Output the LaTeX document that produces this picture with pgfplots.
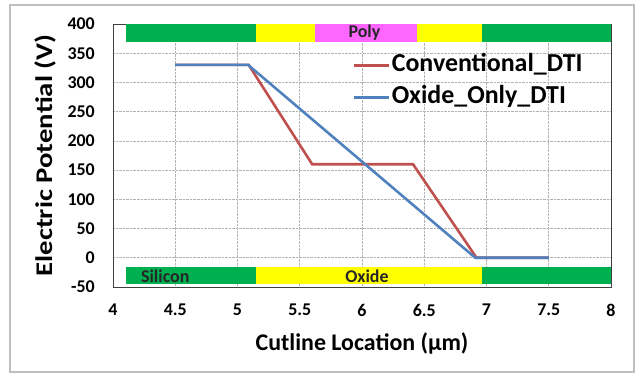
\documentclass[border=0pt]{standalone}
\usepackage{pgfplots}
\pgfplotsset{compat=1.18}
\usepackage{fontspec}
\setmainfont{Carlito}
\definecolor{bandgreen}{RGB}{0,176,80}
\definecolor{bandyellow}{RGB}{255,255,0}
\definecolor{bandpink}{RGB}{255,102,255}
\definecolor{convred}{RGB}{192,80,77}
\definecolor{oxblue}{RGB}{79,129,189}
\begin{document}
\begin{tikzpicture}
\begin{axis}[
  scale only axis, width=498bp, height=263bp,
  xmin=4, xmax=8, ymin=-50, ymax=400,
  xtick={4,4.5,...,8}, ytick={-50,0,...,400},
  xticklabels={4,4.5,5,5.5,6,6.5,7,7.5,8},
  /pgf/number format/assume math mode=true,
  tick style={draw=none},
  grid=major,
  major grid style={densely dotted, gray!60, line width=0.6pt},
  axis line style={black!75, line width=0.8pt},
  ticklabel style={font=\fontsize{18}{18}\selectfont\bfseries},
  yticklabel style={inner sep=0pt, xshift=-18bp, anchor=east},
  xticklabel style={inner sep=0pt, yshift=-17bp, anchor=north},
  xlabel={Cutline Location (\textmu m)},
  ylabel={\scalebox{1.2}[1]{Electric Potential (V)}},
  xlabel style={font=\fontsize{24}{24}\selectfont\bfseries, at={(axis description cs:0.5,-0.213)}, anchor=center},
  ylabel style={font=\fontsize{24}{24}\selectfont\bfseries, at={(axis description cs:-0.1365,0.5)}, anchor=center},
  legend style={at={(axis description cs:0.48,0.897)}, anchor=north west, draw=none, fill=none, inner sep=0pt,
    font=\fontsize{26}{26}\selectfont\bfseries, row sep=4bp,
    nodes={text height=18bp, text depth=6bp, inner sep=2bp}},
  legend cell align=left,
  legend image code/.code={\draw[#1] (0bp,0bp) -- (35bp,0bp);},
]
% top band
\fill[bandgreen] (axis cs:4.104,369) rectangle (axis cs:5.15,400);
\fill[bandyellow] (axis cs:5.15,369) rectangle (axis cs:5.62,400);
\fill[bandpink] (axis cs:5.62,369) rectangle (axis cs:6.44,400);
\fill[bandyellow] (axis cs:6.44,369) rectangle (axis cs:6.96,400);
\fill[bandgreen] (axis cs:6.96,369) rectangle (axis cs:8,400);
% bottom band
\fill[bandgreen] (axis cs:4.104,-45.5) rectangle (axis cs:5.15,-15.3);
\fill[bandyellow] (axis cs:5.15,-45.5) rectangle (axis cs:6.96,-15.3);
\fill[bandgreen] (axis cs:6.96,-45.5) rectangle (axis cs:8,-15.3);
\node[font=\fontsize{18}{18}\selectfont\bfseries, text=black!85] at (axis cs:6.02,385) {Poly};
\node[font=\fontsize{18}{18}\selectfont\bfseries, text=black!85] at (axis cs:4.42,-31) {Silicon};
\node[font=\fontsize{18}{18}\selectfont\bfseries, text=black!85] at (axis cs:6.04,-31) {Oxide};
% data
\addplot[convred, line width=2.6pt] coordinates {(4.5,330) (5.09,330) (5.6,160) (6.41,160) (6.92,0) (7.5,0)};
\addlegendentry{Conventional\_DTI}
\addplot[oxblue, line width=2.6pt] coordinates {(4.5,330) (5.085,330) (6.91,0) (7.5,0)};
\addlegendentry{Oxide\_Only\_DTI}
\end{axis}
\draw[gray!50, line width=1.2pt] (-103bp,-85bp) rectangle (521bp,282bp);
\pgfresetboundingbox
\useasboundingbox (-113bp,-88bp) rectangle (524bp,287bp);
\end{tikzpicture}
\end{document}
